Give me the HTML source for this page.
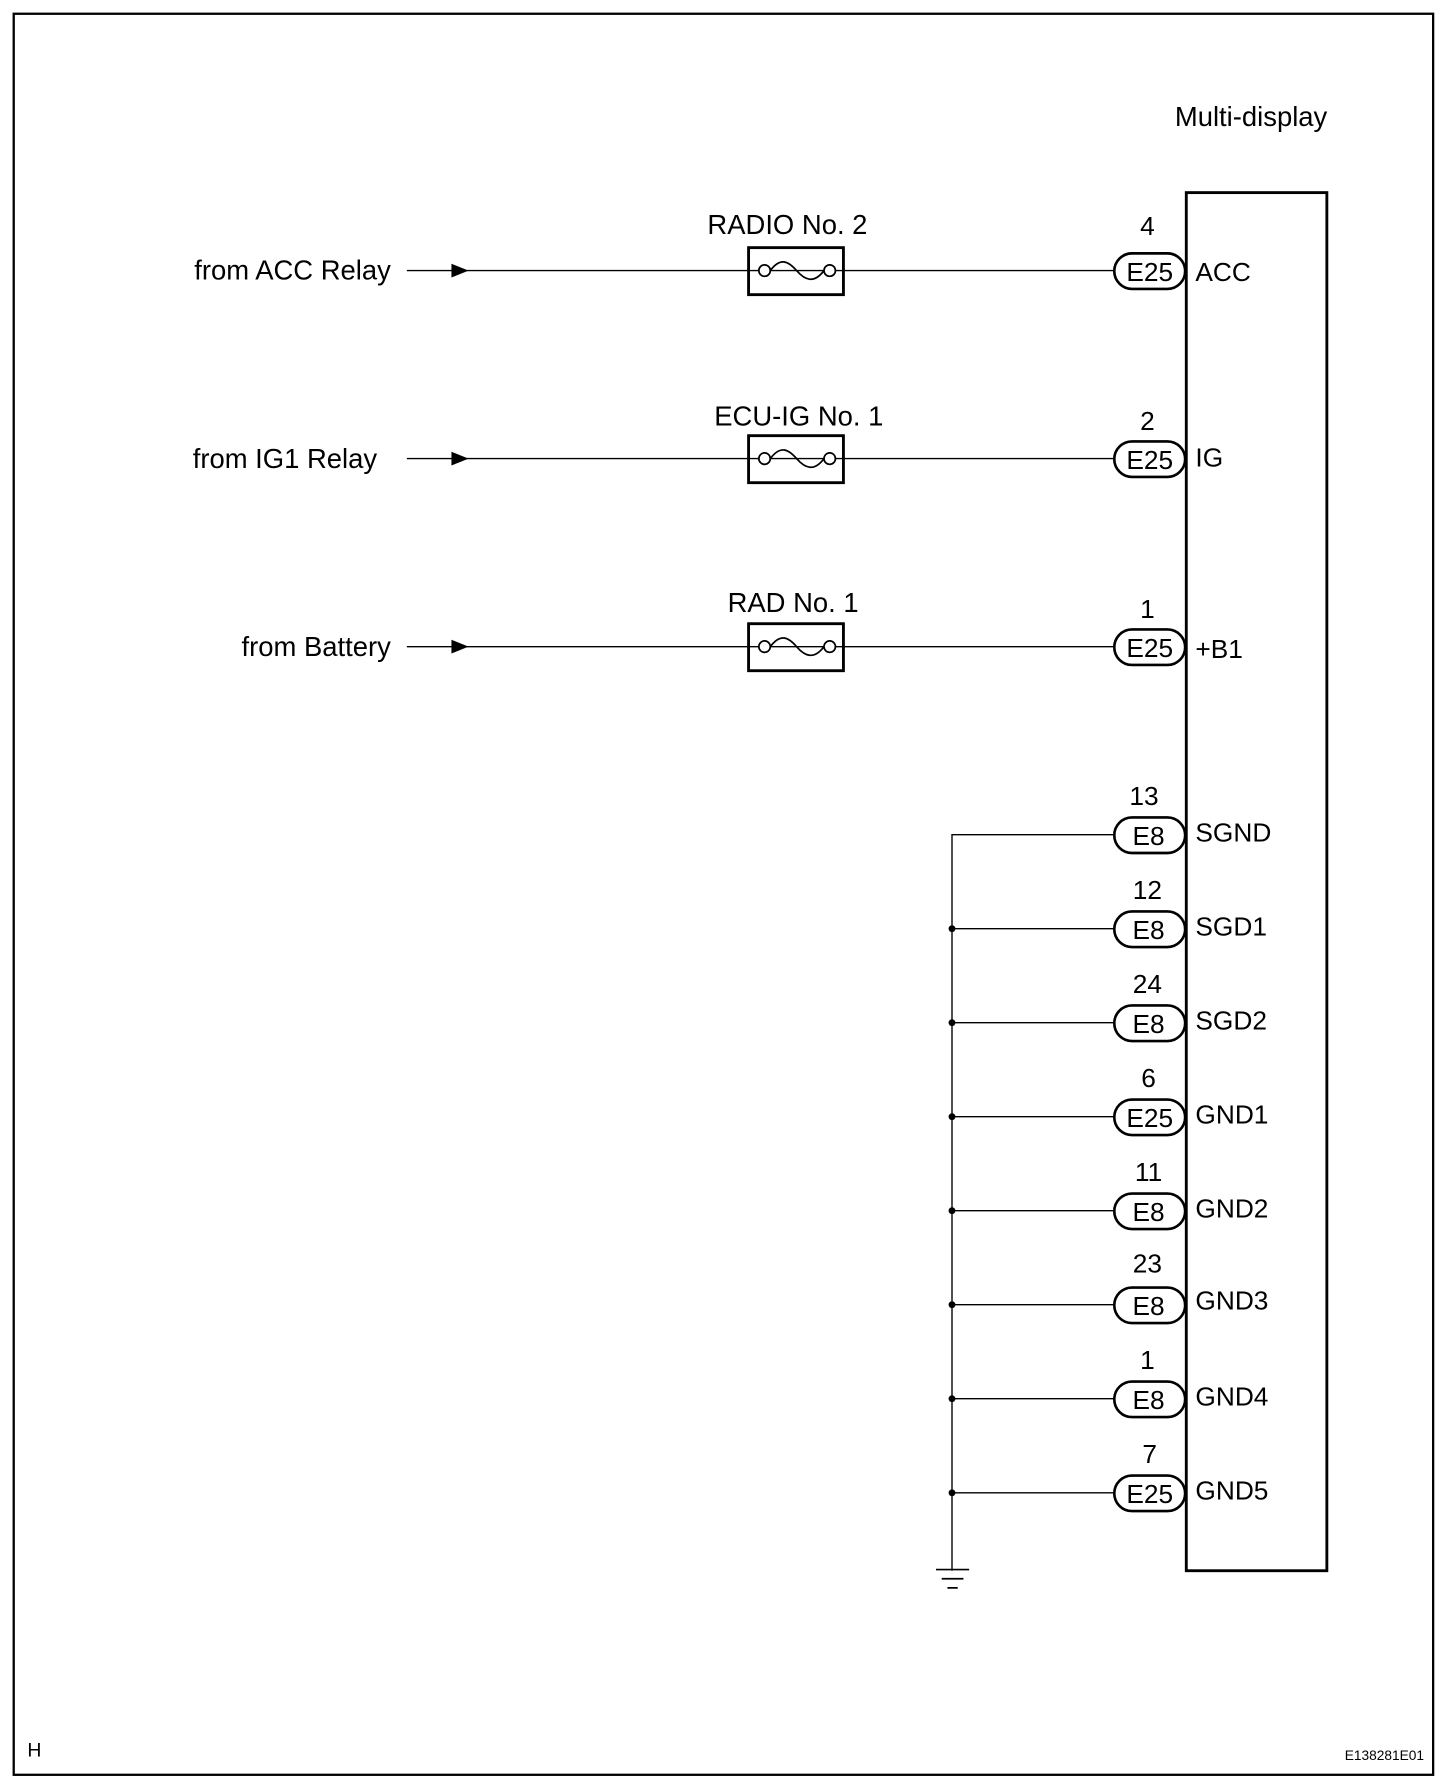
<!DOCTYPE html>
<html><head><meta charset="utf-8"><style>
html,body{margin:0;padding:0;background:#fff;}
svg{display:block;}
text{font-family:"Liberation Sans",Arial,sans-serif;fill:#000;}
</style></head><body>
<svg width="1456" height="1792" viewBox="0 0 1274 1563" preserveAspectRatio="none" xmlns="http://www.w3.org/2000/svg">
<rect x="12" y="12" width="1242" height="1536" fill="none" stroke="#000" stroke-width="2"/>
<text x="1028" y="110" font-size="24">Multi-display</text>
<rect x="1038" y="168" width="123" height="1202" fill="none" stroke="#000" stroke-width="2.5"/>

<g font-size="24">
<text x="342" y="244" text-anchor="end">from ACC Relay</text>
<text x="330" y="408" text-anchor="end">from IG1 Relay</text>
<text x="342" y="572" text-anchor="end">from Battery</text>
<text x="689" y="204" text-anchor="middle">RADIO No. 2</text>
<text x="699" y="371" text-anchor="middle">ECU-IG No. 1</text>
<text x="694" y="534" text-anchor="middle">RAD No. 1</text>
</g>
<g stroke="#000" fill="none">
<path d="M356 236H975M356 400H975M356 564H975" stroke-width="1.2"/>
<rect x="655" y="216" width="83" height="41" stroke-width="2.5" fill="#fff"/>
<rect x="655" y="380" width="83" height="41" stroke-width="2.5" fill="#fff"/>
<rect x="655" y="544" width="83" height="41" stroke-width="2.5" fill="#fff"/>
</g>
<g stroke="#000" stroke-width="1.5" fill="#fff">
<path d="M655 236H738M655 400H738M655 564H738" fill="none" stroke-width="1.2"/>
<circle cx="669" cy="236" r="5"/><circle cx="726" cy="236" r="5"/>
<circle cx="669" cy="400" r="5"/><circle cx="726" cy="400" r="5"/>
<circle cx="669" cy="564" r="5"/><circle cx="726" cy="564" r="5"/>
<path d="M674 236C683 224 690 228 697 236S712 248 721 236" fill="none"/>
<path d="M674 400C683 388 690 392 697 400S712 412 721 400" fill="none"/>
<path d="M674 564C683 552 690 556 697 564S712 576 721 564" fill="none"/>
</g>
<g fill="#000">
<path d="M395 230L410 236L395 242Z"/>
<path d="M395 394L410 400L395 406Z"/>
<path d="M395 558L410 564L395 570Z"/>
</g>

<g stroke="#000" stroke-width="1.2" fill="none">
<path d="M975 728H833V1370"/>
<path d="M833 810H975M833 892H975M833 974H975M833 1056H975M833 1138H975M833 1220H975M833 1302H975"/>
<path d="M819 1369H848M824 1377H843M829 1385H838" stroke-width="1.5"/>
</g>
<g fill="#000">
<circle cx="833" cy="810" r="3"/><circle cx="833" cy="892" r="3"/><circle cx="833" cy="974" r="3"/>
<circle cx="833" cy="1056" r="3"/><circle cx="833" cy="1138" r="3"/><circle cx="833" cy="1220" r="3"/>
<circle cx="833" cy="1302" r="3"/>
</g>

<g stroke="#000" stroke-width="2.3" fill="#fff">
<rect x="975" y="221" width="62" height="31" rx="15.5"/>
<rect x="975" y="385" width="62" height="31" rx="15.5"/>
<rect x="975" y="549" width="62" height="31" rx="15.5"/>
<rect x="975" y="713" width="62" height="31" rx="15.5"/>
<rect x="975" y="795" width="62" height="31" rx="15.5"/>
<rect x="975" y="877" width="62" height="31" rx="15.5"/>
<rect x="975" y="959" width="62" height="31" rx="15.5"/>
<rect x="975" y="1041" width="62" height="31" rx="15.5"/>
<rect x="975" y="1123" width="62" height="31" rx="15.5"/>
<rect x="975" y="1205" width="62" height="31" rx="15.5"/>
<rect x="975" y="1287" width="62" height="31" rx="15.5"/>
</g>
<g font-size="23" text-anchor="middle">
<text x="1006" y="245">E25</text><text x="1006" y="409">E25</text><text x="1006" y="573">E25</text>
<text x="1005" y="737">E8</text><text x="1005" y="819">E8</text><text x="1005" y="901">E8</text>
<text x="1006" y="983">E25</text><text x="1005" y="1065">E8</text><text x="1005" y="1147">E8</text>
<text x="1005" y="1229">E8</text><text x="1006" y="1311">E25</text>
<text x="1004" y="205">4</text><text x="1004" y="375">2</text><text x="1004" y="539">1</text>
<text x="1001" y="702">13</text><text x="1004" y="784">12</text><text x="1004" y="866">24</text>
<text x="1005" y="948">6</text><text x="1005" y="1030">11</text><text x="1004" y="1110">23</text>
<text x="1004" y="1194">1</text><text x="1006" y="1276">7</text>
</g>
<g font-size="23">
<text x="1046" y="245">ACC</text><text x="1046" y="407">IG</text><text x="1046" y="574">+B1</text>
<text x="1046" y="734">SGND</text><text x="1046" y="816">SGD1</text><text x="1046" y="898">SGD2</text>
<text x="1046" y="980">GND1</text><text x="1046" y="1062">GND2</text><text x="1046" y="1142">GND3</text>
<text x="1046" y="1226">GND4</text><text x="1046" y="1308">GND5</text>
</g>
<text x="24" y="1532" font-size="17">H</text>
<text x="1246" y="1535" font-size="12" text-anchor="end">E138281E01</text>
</svg>
</body></html>
